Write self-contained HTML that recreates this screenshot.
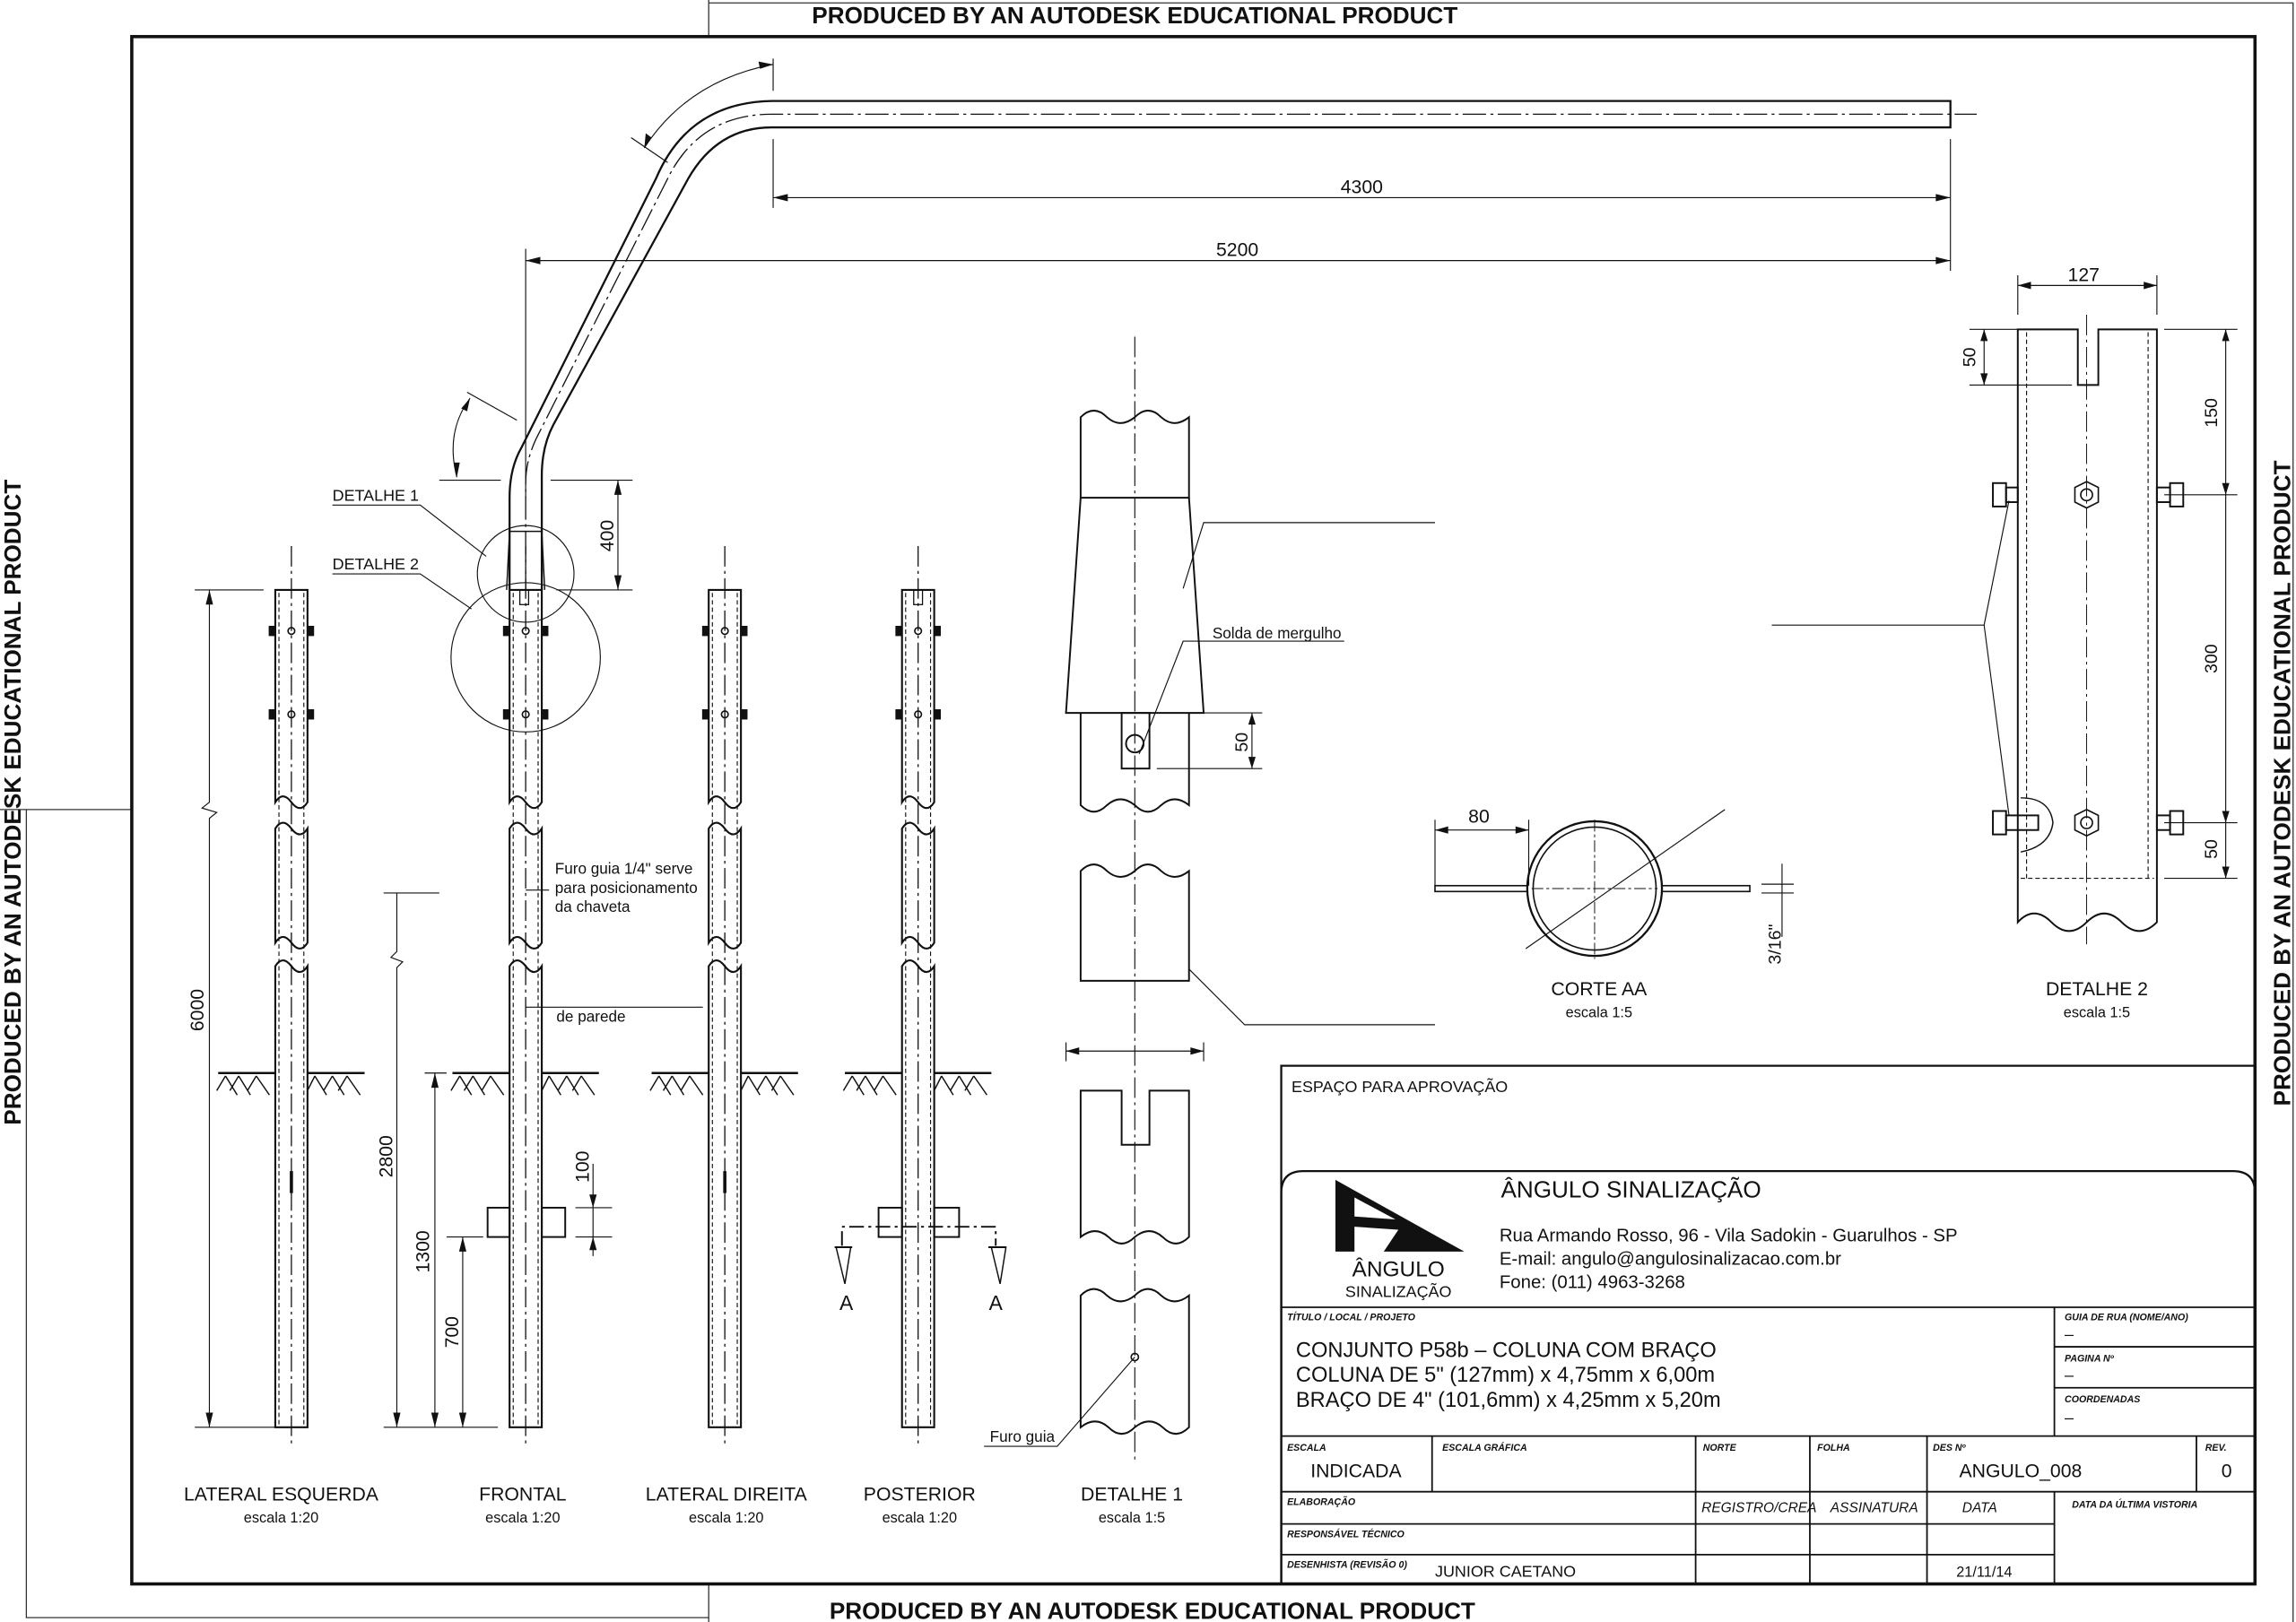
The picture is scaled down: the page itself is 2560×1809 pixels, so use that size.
<!DOCTYPE html>
<html><head><meta charset="utf-8"><style>
html,body{margin:0;padding:0;background:#fff;}
svg{display:block;}
text{font-family:"Liberation Sans",sans-serif;fill:#111;}
</style></head><body>
<svg width="2560" height="1809" viewBox="0 0 1568 1108" xmlns="http://www.w3.org/2000/svg">
<defs>
<g id="pole" fill="none" stroke="#111">
 <line x1="0" y1="373" x2="0" y2="988" stroke-width="0.8" stroke-dasharray="14,3,2,3"/>
 <path d="M-11,403 H11 V548 q-5,8 -11,0 q-6,-8 -11,0 Z" stroke-width="1.3"/>
 <path d="M-11,566 q5,-8 11,0 q6,8 11,0 V644 q-5,8 -11,0 q-6,-8 -11,0 Z" stroke-width="1.3"/>
 <path d="M-11,660 q5,-8 11,0 q6,8 11,0 V975 H-11 Z" stroke-width="1.3"/>
 <line x1="-8.5" y1="405" x2="-8.5" y2="973" stroke-width="0.7" stroke-dasharray="3,2"/>
 <line x1="8.5" y1="405" x2="8.5" y2="973" stroke-width="0.7" stroke-dasharray="3,2"/>
 <circle cx="0" cy="431" r="2.3" stroke-width="1"/><circle cx="0" cy="488" r="2.3" stroke-width="1"/>
 <rect x="-15" y="428" width="4" height="6" fill="#111"/><rect x="11" y="428" width="4" height="6" fill="#111"/>
 <rect x="-15" y="485" width="4" height="6" fill="#111"/><rect x="11" y="485" width="4" height="6" fill="#111"/>
 <path d="M-50,733 H-11 M11,733 H50" stroke-width="1.5"/>
 <path d="M-45,735 l-6,10 M-45,735 l8,13 M-36,735 l-6,10 M-36,735 l8,13 M-24,735 l-6,10 M-24,735 l9,13 M16,735 l-5,10 M16,735 l8,13 M28,735 l-6,10 M28,735 l8,13 M38,735 l-6,10 M38,735 l9,13" stroke-width="0.9"/>
</g>
</defs>
<rect width="1568" height="1108" fill="#fff"/>
<g stroke="#333" stroke-width="0.8" fill="none">
<path d="M484,0 V25 M484,2 H1566 V1108 M0,553 H90 M18,553 V1105 H484 M484,1082 V1108"/>
</g>
<rect x="90" y="25" width="1450" height="1057" fill="none" stroke="#111" stroke-width="2.2"/>
<text x="775" y="16" font-size="16" font-weight="bold" text-anchor="middle">PRODUCED BY AN AUTODESK EDUCATIONAL PRODUCT</text>
<text x="787" y="1106" font-size="16" font-weight="bold" text-anchor="middle">PRODUCED BY AN AUTODESK EDUCATIONAL PRODUCT</text>
<text transform="translate(14,548) rotate(-90)" font-size="16" font-weight="bold" text-anchor="middle">PRODUCED BY AN AUTODESK EDUCATIONAL PRODUCT</text>
<text transform="translate(1564,535) rotate(-90)" font-size="16" font-weight="bold" text-anchor="middle">PRODUCED BY AN AUTODESK EDUCATIONAL PRODUCT</text>

<use href="#pole" x="199"/>
<use href="#pole" x="359"/>
<use href="#pole" x="495"/>
<use href="#pole" x="627"/>
<g stroke="#111" stroke-width="2.2"><line x1="199" y1="800" x2="199" y2="815"/><line x1="495" y1="800" x2="495" y2="815"/></g>
<g fill="none" stroke="#111" stroke-width="1.2">
<rect x="624" y="403" width="6" height="10" stroke-width="0.8"/>
<rect x="355" y="403" width="6" height="10" stroke-width="0.8"/>
<rect x="333" y="825" width="15" height="20"/><rect x="370" y="825" width="16" height="20"/>
<rect x="600" y="825" width="16" height="20"/><rect x="638" y="825" width="17" height="20"/>
<path d="M575,851 V838 H680 V851" stroke-dasharray="10,3,2,3"/>
<path d="M570,852 h12 M675,852 h12"/>
<path d="M571,852 l6,25 l4,-25 Z M677,852 l6,25 l4,-25 Z" stroke-width="0.9"/>
</g>
<text x="578" y="895" font-size="14" text-anchor="middle">A</text>
<text x="680" y="895" font-size="14" text-anchor="middle">A</text>

<!-- arm -->
<g fill="none" stroke="#111" stroke-width="1.4">
<path d="M348,403 V340 Q348,320 356,306 L448,122 Q470,70 527,69 H1332 V87 H527 Q490,87 470,122 L378,290 Q370,305 370,325 V403"/>
<line x1="348" y1="363" x2="370" y2="363" stroke-width="0.9"/>
<path d="M348,363 L346,403 M370,363 L372,403" stroke-width="0.9"/>
</g>
<path d="M359,403 V330 Q359,315 366,300 L458,118 Q480,78 527,78 H1350" fill="none" stroke="#111" stroke-width="0.8" stroke-dasharray="16,3,2,3"/>
<g stroke="#111" stroke-width="0.7" fill="none">
<path d="M528,40 V62 M528,95 V142 M1332,95 V185 M359,170 V340"/>
<line x1="528" y1="135" x2="1332" y2="135"/>
<line x1="359" y1="178" x2="1332" y2="178"/>
<path d="M431,94 L456,111 M319,268 L353,287"/>
<path d="M440,101 Q470,55 528,44"/>
<path d="M312,326 Q304,295 321,272"/>
<path d="M300,328 H342 M376,328 H432 M380,403 H432"/>
<line x1="422" y1="328" x2="422" y2="403"/>
<circle cx="359" cy="392" r="33"/>
<circle cx="359" cy="449" r="51"/>
<path d="M227,345 H287 L332,380 M227,392 H287 L322,416"/>
</g>
<g fill="#111">
<path d="M528,135 l10,-2.5 v5 Z M1332,135 l-10,-2.5 v5 Z M359,178 l10,-2.5 v5 Z M1332,178 l-10,-2.5 v5 Z M528,44 l-10,-2 l1,5 Z M440,101 l1,-10 l4,3 Z M321,272 l-2,9 l-4,-2 Z M312,326 l-2,-10 l4,0 Z M422,328 l-2.5,10 h5 Z M422,403 l-2.5,-10 h5 Z"/>
</g>
<text x="930" y="132" font-size="13" text-anchor="middle">4300</text>
<text x="845" y="175" font-size="13" text-anchor="middle">5200</text>
<text transform="translate(419,366) rotate(-90)" font-size="13" text-anchor="middle">400</text>
<text x="227" y="342" font-size="11">DETALHE 1</text>
<text x="227" y="389" font-size="11">DETALHE 2</text>

<g stroke="#111" stroke-width="0.7" fill="none">
<path d="M133,403 H180 M133,975 H190 M143,403 V548 l-5,4 l10,3 l-5,4 V975"/>
<path d="M262,610 H300 M262,975 H340 M271,610 V650 l-4,4 l8,3 l-4,4 V975"/>
<path d="M290,733 H305 M297,733 V975"/>
<path d="M305,845 H330 M316,845 V975"/>
<path d="M393,825 H418 M393,845 H418 M405,795 V858"/>
<path d="M359,608 H375 M359,688 H480"/>
</g>
<g fill="#111"><path d="M143,403 l-2.5,10 h5 Z M143,975 l-2.5,-10 h5 Z M271,975 l-2.5,-10 h5 Z M297,733 l-2.5,10 h5 Z M297,975 l-2.5,-10 h5 Z M316,845 l-2.5,10 h5 Z M316,975 l-2.5,-10 h5 Z M405,825 l-2.5,-9 h5 Z M405,845 l-2.5,9 h5 Z"/></g>
<text transform="translate(139,690) rotate(-90)" font-size="13" text-anchor="middle">6000</text>
<text transform="translate(268,790) rotate(-90)" font-size="13" text-anchor="middle">2800</text>
<text transform="translate(293,855) rotate(-90)" font-size="13" text-anchor="middle">1300</text>
<text transform="translate(313,910) rotate(-90)" font-size="13" text-anchor="middle">700</text>
<text transform="translate(402,797) rotate(-90)" font-size="13" text-anchor="middle">100</text>
<text x="379" y="597" font-size="10.5">Furo guia 1/4" serve</text>
<text x="379" y="610" font-size="10.5">para posicionamento</text>
<text x="379" y="623" font-size="10.5">da chaveta</text>
<text x="380" y="698" font-size="10.5">de parede</text>

<g font-size="13" text-anchor="middle">
<text x="192" y="1025">LATERAL ESQUERDA</text><text x="357" y="1025">FRONTAL</text><text x="496" y="1025">LATERAL DIREITA</text><text x="628" y="1025">POSTERIOR</text><text x="773" y="1025">DETALHE 1</text>
</g>
<g font-size="10" text-anchor="middle">
<text x="192" y="1040">escala 1:20</text><text x="357" y="1040">escala 1:20</text><text x="496" y="1040">escala 1:20</text><text x="628" y="1040">escala 1:20</text><text x="773" y="1040">escala 1:5</text>
</g>

<!-- detail 1 -->
<g fill="none" stroke="#111" stroke-width="1.2">
<line x1="775" y1="230" x2="775" y2="1000" stroke-width="0.7" stroke-dasharray="14,3,2,3"/>
<path d="M738,340 V285 q9,-9 18,0 q9,8 19,0 q9,-9 18,0 q9,8 19,0 V340 Z"/>
<path d="M738,340 L728,487 H822 L812,340"/>
<path d="M738,487 V550 q9,9 18,0 q9,-8 19,0 q9,9 18,0 q9,-8 19,0 V487"/>
<rect x="766" y="487" width="19" height="38"/>
<circle cx="775" cy="508" r="6"/>
<path d="M738,670 V595 q9,-9 18,0 q9,8 19,0 q9,-9 18,0 q9,8 19,0 V670 Z"/>
<path d="M738,745 H766 V782 H785 V745 H812 V845 q-9,9 -18,0 q-9,-8 -19,0 q-9,9 -18,0 q-9,-8 -19,0 Z"/>
<path d="M738,975 V885 q9,-9 18,0 q9,8 19,0 q9,-9 18,0 q9,8 19,0 V975 q-9,9 -18,0 q-9,-8 -19,0 q-9,9 -18,0 q-9,-8 -19,0 Z"/>
</g>
<g fill="none" stroke="#111" stroke-width="0.7">
<path d="M728,712 V725 M822,712 V725 M728,718 H822"/>
<path d="M790,525 H862 M810,487 H862 M855,487 V525"/>
<path d="M808,402 L822,357 H980"/>
<path d="M778,515 L808,438 H918"/>
<path d="M812,662 L850,700 H980"/>
<path d="M775,927 L722,988 H672"/>
</g>
<circle cx="775" cy="927" r="2.5" fill="none" stroke="#111"/>
<g fill="#111"><path d="M728,718 l9,-2.5 v5 Z M822,718 l-9,-2.5 v5 Z M855,487 l-2.5,8 h5 Z M855,525 l-2.5,-8 h5 Z"/></g>
<text x="828" y="436" font-size="10.5">Solda de mergulho</text>
<text transform="translate(852,507) rotate(-90)" font-size="12" text-anchor="middle">50</text>
<text x="676" y="985" font-size="10.5">Furo guia</text>

<!-- corte AA -->
<g fill="none" stroke="#111">
<rect x="980" y="605" width="215" height="4" stroke-width="1"/>
<circle cx="1089" cy="607" r="46" fill="#fff" stroke-width="1.4"/>
<circle cx="1089" cy="607" r="42" stroke-width="1"/>
<path d="M1046,607 H1132" stroke-width="0.6" stroke-dasharray="8,2,2,2"/>
<path d="M1089,560 V655" stroke-width="0.6" stroke-dasharray="8,2,2,2"/>
<path d="M1042,648 L1178,553" stroke-width="0.7"/>
<path d="M980,560 V605 M1044,560 V605 M980,567 H1044" stroke-width="0.7"/>
<path d="M1203,604 H1225 M1203,610 H1225 M1217,590 V640" stroke-width="0.7"/>
</g>
<g fill="#111"><path d="M980,567 l9,-2.5 v5 Z M1044,567 l-9,-2.5 v5 Z"/></g>
<text x="1010" y="562" font-size="13" text-anchor="middle">80</text>
<text transform="translate(1216,645) rotate(-90)" font-size="12" text-anchor="middle">3/16"</text>
<text x="1092" y="680" font-size="13" text-anchor="middle">CORTE AA</text>
<text x="1092" y="695" font-size="10" text-anchor="middle">escala 1:5</text>

<!-- detalhe 2 -->
<g fill="none" stroke="#111" stroke-width="1.2">
<path d="M1378,225 H1419 V263 H1433 V225 H1473 V630 q-12,12 -24,0 q-12,-12 -24,0 q-12,12 -24,0 q-12,-12 -23,0 Z"/>
<line x1="1384" y1="227" x2="1384" y2="600" stroke-width="0.7" stroke-dasharray="3,2"/>
<line x1="1467" y1="227" x2="1467" y2="600" stroke-width="0.7" stroke-dasharray="3,2"/>
<line x1="1380" y1="600" x2="1471" y2="600" stroke-width="0.7" stroke-dasharray="3,2"/>
<line x1="1425" y1="215" x2="1425" y2="645" stroke-width="0.6" stroke-dasharray="14,3,2,3"/>
<polygon points="1425,329 1433,333 1433,343 1425,347 1417,343 1417,333" stroke-width="1"/>
<circle cx="1425" cy="338" r="4" stroke-width="1"/>
<polygon points="1425,553 1433,557 1433,567 1425,571 1417,567 1417,557" stroke-width="1"/>
<circle cx="1425" cy="562" r="4" stroke-width="1"/>
<rect x="1361" y="330" width="9" height="16"/><rect x="1370" y="333" width="8" height="10"/>
<rect x="1482" y="330" width="9" height="16"/><rect x="1473" y="333" width="9" height="10"/>
<rect x="1361" y="554" width="9" height="16"/><rect x="1370" y="557" width="22" height="10"/>
<rect x="1482" y="554" width="9" height="16"/><rect x="1473" y="557" width="9" height="10"/>
<path d="M1380,545 Q1400,545 1402,562 Q1400,578 1380,582" stroke-width="0.9"/>
</g>
<g fill="none" stroke="#111" stroke-width="0.7">
<path d="M1378,188 V215 M1473,188 V215 M1378,195 H1473"/>
<path d="M1345,225 H1378 M1345,263 H1415 M1355,225 V263"/>
<path d="M1478,225 H1528 M1478,338 H1528 M1478,562 H1528 M1478,600 H1528 M1520,225 V600"/>
<path d="M1210,427 H1355 L1372,342 M1355,427 L1372,557"/>
</g>
<g fill="#111"><path d="M1378,195 l9,-2.5 v5 Z M1473,195 l-9,-2.5 v5 Z M1355,225 l-2.5,8 h5 Z M1355,263 l-2.5,-8 h5 Z M1520,225 l-2.5,8 h5 Z M1520,338 l-2.5,-8 h5 Z M1520,562 l-2.5,-8 h5 Z M1520,600 l-2.5,-8 h5 Z"/></g>
<text x="1423" y="192" font-size="13" text-anchor="middle">127</text>
<text transform="translate(1349,244) rotate(-90)" font-size="12" text-anchor="middle">50</text>
<text transform="translate(1514,282) rotate(-90)" font-size="12" text-anchor="middle">150</text>
<text transform="translate(1514,450) rotate(-90)" font-size="12" text-anchor="middle">300</text>
<text transform="translate(1514,580) rotate(-90)" font-size="12" text-anchor="middle">50</text>
<text x="1432" y="680" font-size="13" text-anchor="middle">DETALHE 2</text>
<text x="1432" y="695" font-size="10" text-anchor="middle">escala 1:5</text>

<!-- title block -->
<g fill="none" stroke="#111">
<path d="M875,1082 V728 H1540" stroke-width="1.4"/>
<path d="M875,1082 V815 Q875,800 890,800 H1525 Q1540,800 1540,815" stroke-width="1.4"/>
<path d="M875,893 H1540 M875,981 H1540 M875,1019 H1540 M875,1041 H1403 M875,1062 H1403 M1403,893 V981 M1403,920 H1540 M1403,948 H1540" stroke-width="1.1"/>
<path d="M978,981 V1019 M1158,981 V1082 M1236,981 V1082 M1316,981 V1082 M1500,981 V1019 M1403,1019 V1082" stroke-width="1.1"/>
</g>
<path d="M912,806 L1000,855 L945,855 L955,840 L925,838 L925,855 L912,855 Z" fill="#111"/>
<path d="M925,818 L953,833 L925,831 Z" fill="#fff"/>
<text x="955" y="872" font-size="15" text-anchor="middle">ÂNGULO</text>
<text x="955" y="886" font-size="11" text-anchor="middle">SINALIZAÇÃO</text>
<text x="882" y="746" font-size="11">ESPAÇO  PARA  APROVAÇÃO</text>
<text x="1025" y="818" font-size="16">ÂNGULO  SINALIZAÇÃO</text>
<text x="1024" y="848" font-size="12.5">Rua Armando Rosso, 96 - Vila Sadokin - Guarulhos - SP</text>
<text x="1024" y="864" font-size="12.5">E-mail: angulo@angulosinalizacao.com.br</text>
<text x="1024" y="880" font-size="12.5">Fone: (011) 4963-3268</text>
<g font-size="6.5" font-weight="bold" font-style="italic">
<text x="879" y="902">TÍTULO / LOCAL / PROJETO</text>
<text x="1410" y="902">GUIA DE RUA (NOME/ANO)</text>
<text x="1410" y="930">PAGINA Nº</text>
<text x="1410" y="958">COORDENADAS</text>
<text x="879" y="991">ESCALA</text><text x="985" y="991">ESCALA GRÁFICA</text><text x="1163" y="991">NORTE</text><text x="1241" y="991">FOLHA</text><text x="1320" y="991">DES Nº</text><text x="1506" y="991">REV.</text>
<text x="879" y="1028">ELABORAÇÃO</text><text x="1415" y="1030">DATA DA ÚLTIMA VISTORIA</text>
<text x="879" y="1050">RESPONSÁVEL TÉCNICO</text>
<text x="879" y="1071">DESENHISTA (REVISÃO 0)</text>
</g>
<g font-size="9.5" font-style="italic"><text x="1162" y="1033">REGISTRO/CREA</text><text x="1250" y="1033">ASSINATURA</text><text x="1340" y="1033">DATA</text></g>
<g font-size="14.5">
<text x="885" y="927">CONJUNTO P58b – COLUNA COM BRAÇO</text>
<text x="885" y="944">COLUNA DE 5" (127mm) x 4,75mm x 6,00m</text>
<text x="885" y="961">BRAÇO DE 4" (101,6mm) x 4,25mm x 5,20m</text>
</g>
<g font-size="11"><text x="1410" y="915">–</text><text x="1410" y="943">–</text><text x="1410" y="972">–</text></g>
<text x="895" y="1009" font-size="13">INDICADA</text>
<text x="1338" y="1009" font-size="13">ANGULO_008</text>
<text x="1517" y="1009" font-size="13">0</text>
<text x="980" y="1077" font-size="11">JUNIOR  CAETANO</text>
<text x="1336" y="1077" font-size="10">21/11/14</text>
</svg>
</body></html>
